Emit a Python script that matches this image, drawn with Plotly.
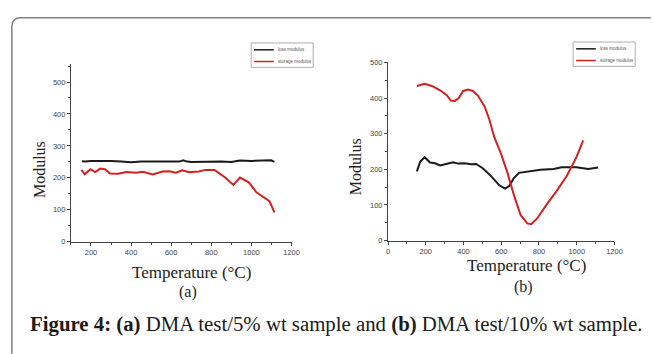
import plotly.graph_objects as go

W, H = 654, 354

# Panel (a): 5% wt sample
a_loss_T = [155, 170, 200, 250, 300, 350, 400, 450, 500, 550, 600, 640, 660, 680, 700, 750, 800, 850, 900, 943, 1000, 1050, 1098, 1115]
a_loss_M = [252, 251, 253, 254, 253, 251, 249, 251, 251, 250, 250, 251, 255, 251, 250, 251, 251, 251, 250, 254, 253, 253, 255, 250]
a_stor_T = [152, 169, 197, 221, 246, 270, 295, 336, 377, 426, 459, 508, 557, 590, 623, 656, 689, 738, 770, 816, 869, 910, 943, 987, 1025, 1057, 1090, 1115]
a_stor_M = [225, 211, 227, 218, 229, 227, 214, 213, 218, 216, 219, 211, 220, 221, 216, 224, 218, 220, 225, 225, 201, 178, 201, 186, 155, 140, 127, 92]

# Panel (b): 10% wt sample
b_loss_T = [153, 171, 194, 223, 249, 276, 302, 345, 371, 406, 441, 467, 502, 546, 590, 620, 642, 668, 694, 738, 808, 877, 921, 999, 1061, 1113]
b_loss_M = [194, 222, 234, 219, 217, 211, 214, 220, 216, 217, 214, 215, 203, 181, 155, 146, 153, 176, 190, 194, 199, 201, 206, 206, 201, 205]
b_stor_T = [153, 194, 232, 276, 310, 333, 354, 375, 398, 424, 450, 476, 511, 537, 563, 598, 633, 668, 703, 738, 759, 790, 843, 895, 947, 999, 1034]
b_stor_M = [434, 440, 434, 422, 409, 393, 392, 400, 420, 424, 420, 407, 377, 340, 290, 245, 190, 126, 71, 48, 46, 62, 103, 140, 181, 235, 281]

series_names = ["loss modulus", "storage modulus"]
x_ticks = [0, 200, 400, 600, 800, 1000, 1200]
y_ticks = [0, 100, 200, 300, 400, 500]

fig = go.Figure()
BLACK = "#1a1a1a"
RED = "#d42020"

fig.add_trace(go.Scatter(x=a_loss_T, y=a_loss_M, mode="lines", line=dict(color=BLACK, width=2), xaxis="x", yaxis="y", showlegend=False))
fig.add_trace(go.Scatter(x=a_stor_T, y=a_stor_M, mode="lines", line=dict(color=RED, width=2), xaxis="x", yaxis="y", showlegend=False))
fig.add_trace(go.Scatter(x=b_loss_T, y=b_loss_M, mode="lines", line=dict(color=BLACK, width=2), xaxis="x2", yaxis="y2", showlegend=False))
fig.add_trace(go.Scatter(x=b_stor_T, y=b_stor_M, mode="lines", line=dict(color=RED, width=2), xaxis="x2", yaxis="y2", showlegend=False))

def px(x):
    return x / W

def py(y):
    return 1 - y / H

tickfont = dict(family="Liberation Sans, Arial", size=7.5, color="#444")
axcommon = dict(showline=True, linecolor="#444", linewidth=1, ticks="outside", ticklen=3, tickcolor="#444",
                showgrid=False, zeroline=False, tickfont=tickfont)

def minor(d):
    return dict(ticks="outside", ticklen=2, tickcolor="#444", dtick=d)

fig.update_layout(
    width=W, height=H, autosize=False,
    margin=dict(l=0, r=0, t=0, b=0),
    paper_bgcolor="white", plot_bgcolor="white",
    xaxis=dict(domain=[px(70), px(294)], range=[100, 1200], tickvals=x_ticks[1:], anchor="y", minor=minor(100), **axcommon),
    yaxis=dict(domain=[py(244), py(62)], range=[0, 555], tickvals=y_ticks, anchor="x", minor=minor(50), **axcommon),
    xaxis2=dict(domain=[px(392), px(622)], range=[0, 1200], tickvals=x_ticks, anchor="y2", minor=minor(100), **axcommon),
    yaxis2=dict(domain=[py(242.7), py(60)], range=[0, 500], tickvals=y_ticks, anchor="x2", minor=minor(50), **axcommon),
)

serif = "Liberation Serif, Times New Roman, serif"
ann = []
def text(x, y, s, size, angle=0, xanchor="center", color="#222"):
    ann.append(dict(x=px(x), y=py(y), xref="paper", yref="paper", text=s, showarrow=False,
                    font=dict(family=serif, size=size, color=color), textangle=angle,
                    xanchor=xanchor, yanchor="middle"))

text(38, 170, "Modulus", 16, angle=-90)
text(359, 167, "Modulus", 16, angle=-90)
text(192, 275, "Temperature (°C)", 17)
text(533, 268, "Temperature (°C)", 17)
text(189, 296, "(a)", 16)
text(530, 290, "(b)", 16)
text(26, 328, "<b>Figure 4: (a)</b> DMA test/5% wt sample and <b>(b)</b> DMA test/10% wt sample.", 20.8, xanchor="left", color="#1a1a1a")

# legends
shapes = []
def legend(x0, y0, x1, y1):
    shapes.append(dict(type="rect", xref="paper", yref="paper", x0=px(x0), x1=px(x1), y0=py(y1), y1=py(y0),
                       line=dict(color="#999", width=0.8), fillcolor="white"))
    for i, (name, col) in enumerate(zip(series_names, [BLACK, RED])):
        yy = y0 + 7 + i * 12
        shapes.append(dict(type="line", xref="paper", yref="paper", x0=px(x0 + 3), x1=px(x0 + 23), y0=py(yy), y1=py(yy),
                           line=dict(color=col, width=1.5)))
        ann.append(dict(x=px(x0 + 25), y=py(yy), xref="paper", yref="paper", text=name, showarrow=False,
                        font=dict(family="Liberation Sans, Arial", size=4.5, color="#555"), xanchor="left", yanchor="middle"))

legend(253, 40, 316, 65)
legend(580, 39, 643, 64)

# frame (rounded top-left corner)
r = 9
x0, y0 = 10, 14
path = f"M {px(x0)} {py(H + 5)} L {px(x0)} {py(y0 + r)} Q {px(x0)} {py(y0)} {px(x0 + r)} {py(y0)} L {px(W + 5)} {py(y0)}"
shapes.append(dict(type="path", xref="paper", yref="paper", path=path, line=dict(color="#808080", width=1.5)))

fig.update_layout(annotations=ann, shapes=shapes)
fig.write_html("out.html")
